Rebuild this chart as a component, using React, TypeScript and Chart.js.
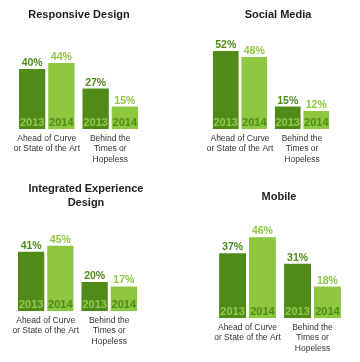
import React, { useEffect, useRef } from "react";
import { Chart, registerables } from "chart.js";

Chart.register(...registerables);

// ---- data ----
const categories: string[][] = [
  ["Ahead of Curve", "or State of the Art"],
  ["Behind the", "Times or", "Hopeless"],
];
const seriesNames = ["2013", "2014"];

const responsiveTitle = ["Responsive Design"];
const responsive2013 = [40, 27];
const responsive2014 = [44, 15];

const socialTitle = ["Social Media"];
const social2013 = [52, 15];
const social2014 = [48, 12];

const integratedTitle = ["Integrated Experience", "Design"];
const integrated2013 = [41, 20];
const integrated2014 = [45, 17];

const mobileTitle = ["Mobile"];
const mobile2013 = [37, 31];
const mobile2014 = [46, 18];

// ---- styles / layout ----
const FONT = "'Liberation Sans', Arial, Helvetica, sans-serif";
const DARK = "#4f8b19";
const LIGHT = "#8dc63f";
const BAR_COLORS = [DARK, LIGHT];
const YEAR_TEXT = ["#93c94a", "#4f8b19"];

type Panel = {
  title: string[];
  a: number[];
  b: number[];
  left: number;
  top: number;
  titleX: number;
  titleY: number;
  pad: { left: number; right: number; top: number; bottom: number };
  yMax: number;
};

const panels: Panel[] = [
  { title: responsiveTitle, a: responsive2013, b: responsive2014, left: 0, top: 0, titleX: 79, titleY: 17.5,
    pad: { left: 15, right: 38, top: 30, bottom: 12 }, yMax: 66 },
  { title: socialTitle, a: social2013, b: social2014, left: 180, top: 0, titleX: 98, titleY: 17.5,
    pad: { left: 29, right: 27, top: 30, bottom: 12 }, yMax: 66 },
  { title: integratedTitle, a: integrated2013, b: integrated2014, left: 0, top: 181, titleX: 86, titleY: 11,
    pad: { left: 14, right: 39, top: 30, bottom: 11 }, yMax: 69 },
  { title: mobileTitle, a: mobile2013, b: mobile2014, left: 180, top: 181, titleX: 99, titleY: 18.5,
    pad: { left: 35, right: 15, top: 30, bottom: 4 }, yMax: 61 },
];

function PanelChart({ p }: { p: Panel }) {
  const ref = useRef<HTMLCanvasElement | null>(null);
  useEffect(() => {
    if (!ref.current) return;
    const decor = {
      id: "decor",
      afterDatasetsDraw(chart: any) {
        const ctx = chart.ctx;
        ctx.save();
        chart.data.datasets.forEach((ds: any, di: number) => {
          const meta = chart.getDatasetMeta(di);
          meta.data.forEach((el: any, i: number) => {
            const v = ds.data[i];
            ctx.textAlign = "center";
            ctx.textBaseline = "alphabetic";
            ctx.font = `bold 10.5px ${FONT}`;
            ctx.fillStyle = BAR_COLORS[di];
            ctx.fillText(`${v}%`, el.x, el.y - 3);
            ctx.font = `bold 11px ${FONT}`;
            ctx.fillStyle = YEAR_TEXT[di];
            ctx.fillText(ds.label, el.x, el.base - 3.5);
          });
        });
        ctx.font = `bold 11px ${FONT}`;
        ctx.fillStyle = "#1e1e1e";
        ctx.textAlign = "center";
        p.title.forEach((line, i) => {
          ctx.fillText(line, p.titleX, p.titleY + i * 13.5);
        });
        ctx.restore();
      },
    };
    const chart = new Chart(ref.current, {
      type: "bar",
      data: {
        labels: categories,
        datasets: [
          { label: seriesNames[0], data: p.a, backgroundColor: DARK, borderWidth: 0,
            categoryPercentage: 0.92, barPercentage: 0.9 },
          { label: seriesNames[1], data: p.b, backgroundColor: LIGHT, borderWidth: 0,
            categoryPercentage: 0.92, barPercentage: 0.9 },
        ],
      },
      options: {
        animation: false,
        responsive: false,
        devicePixelRatio: 1,
        layout: { padding: p.pad },
        plugins: {
          legend: { display: false },
          title: { display: false },
          tooltip: { enabled: false },
        },
        scales: {
          x: {
            grid: { display: false, drawTicks: false },
            border: { display: false },
            ticks: {
              color: "#333333",
              font: { family: FONT, size: 8.5, lineHeight: 1.25 },
              padding: 4,
              maxRotation: 0,
              autoSkip: false,
            },
          },
          y: { display: false, min: 0, max: p.yMax },
        },
      },
      plugins: [decor],
    } as any);
    return () => chart.destroy();
  }, [p]);
  return (
    <div style={{ position: "absolute", left: p.left, top: p.top, width: 180, height: 181 }}>
      <canvas ref={ref} width={180} height={181} style={{ display: "block" }} />
    </div>
  );
}

export default function App() {
  return (
    <div style={{ position: "absolute", left: 0, top: 0, width: 360, height: 362, background: "#ffffff" }}>
      {panels.map((p, i) => (
        <PanelChart key={i} p={p} />
      ))}
    </div>
  );
}
